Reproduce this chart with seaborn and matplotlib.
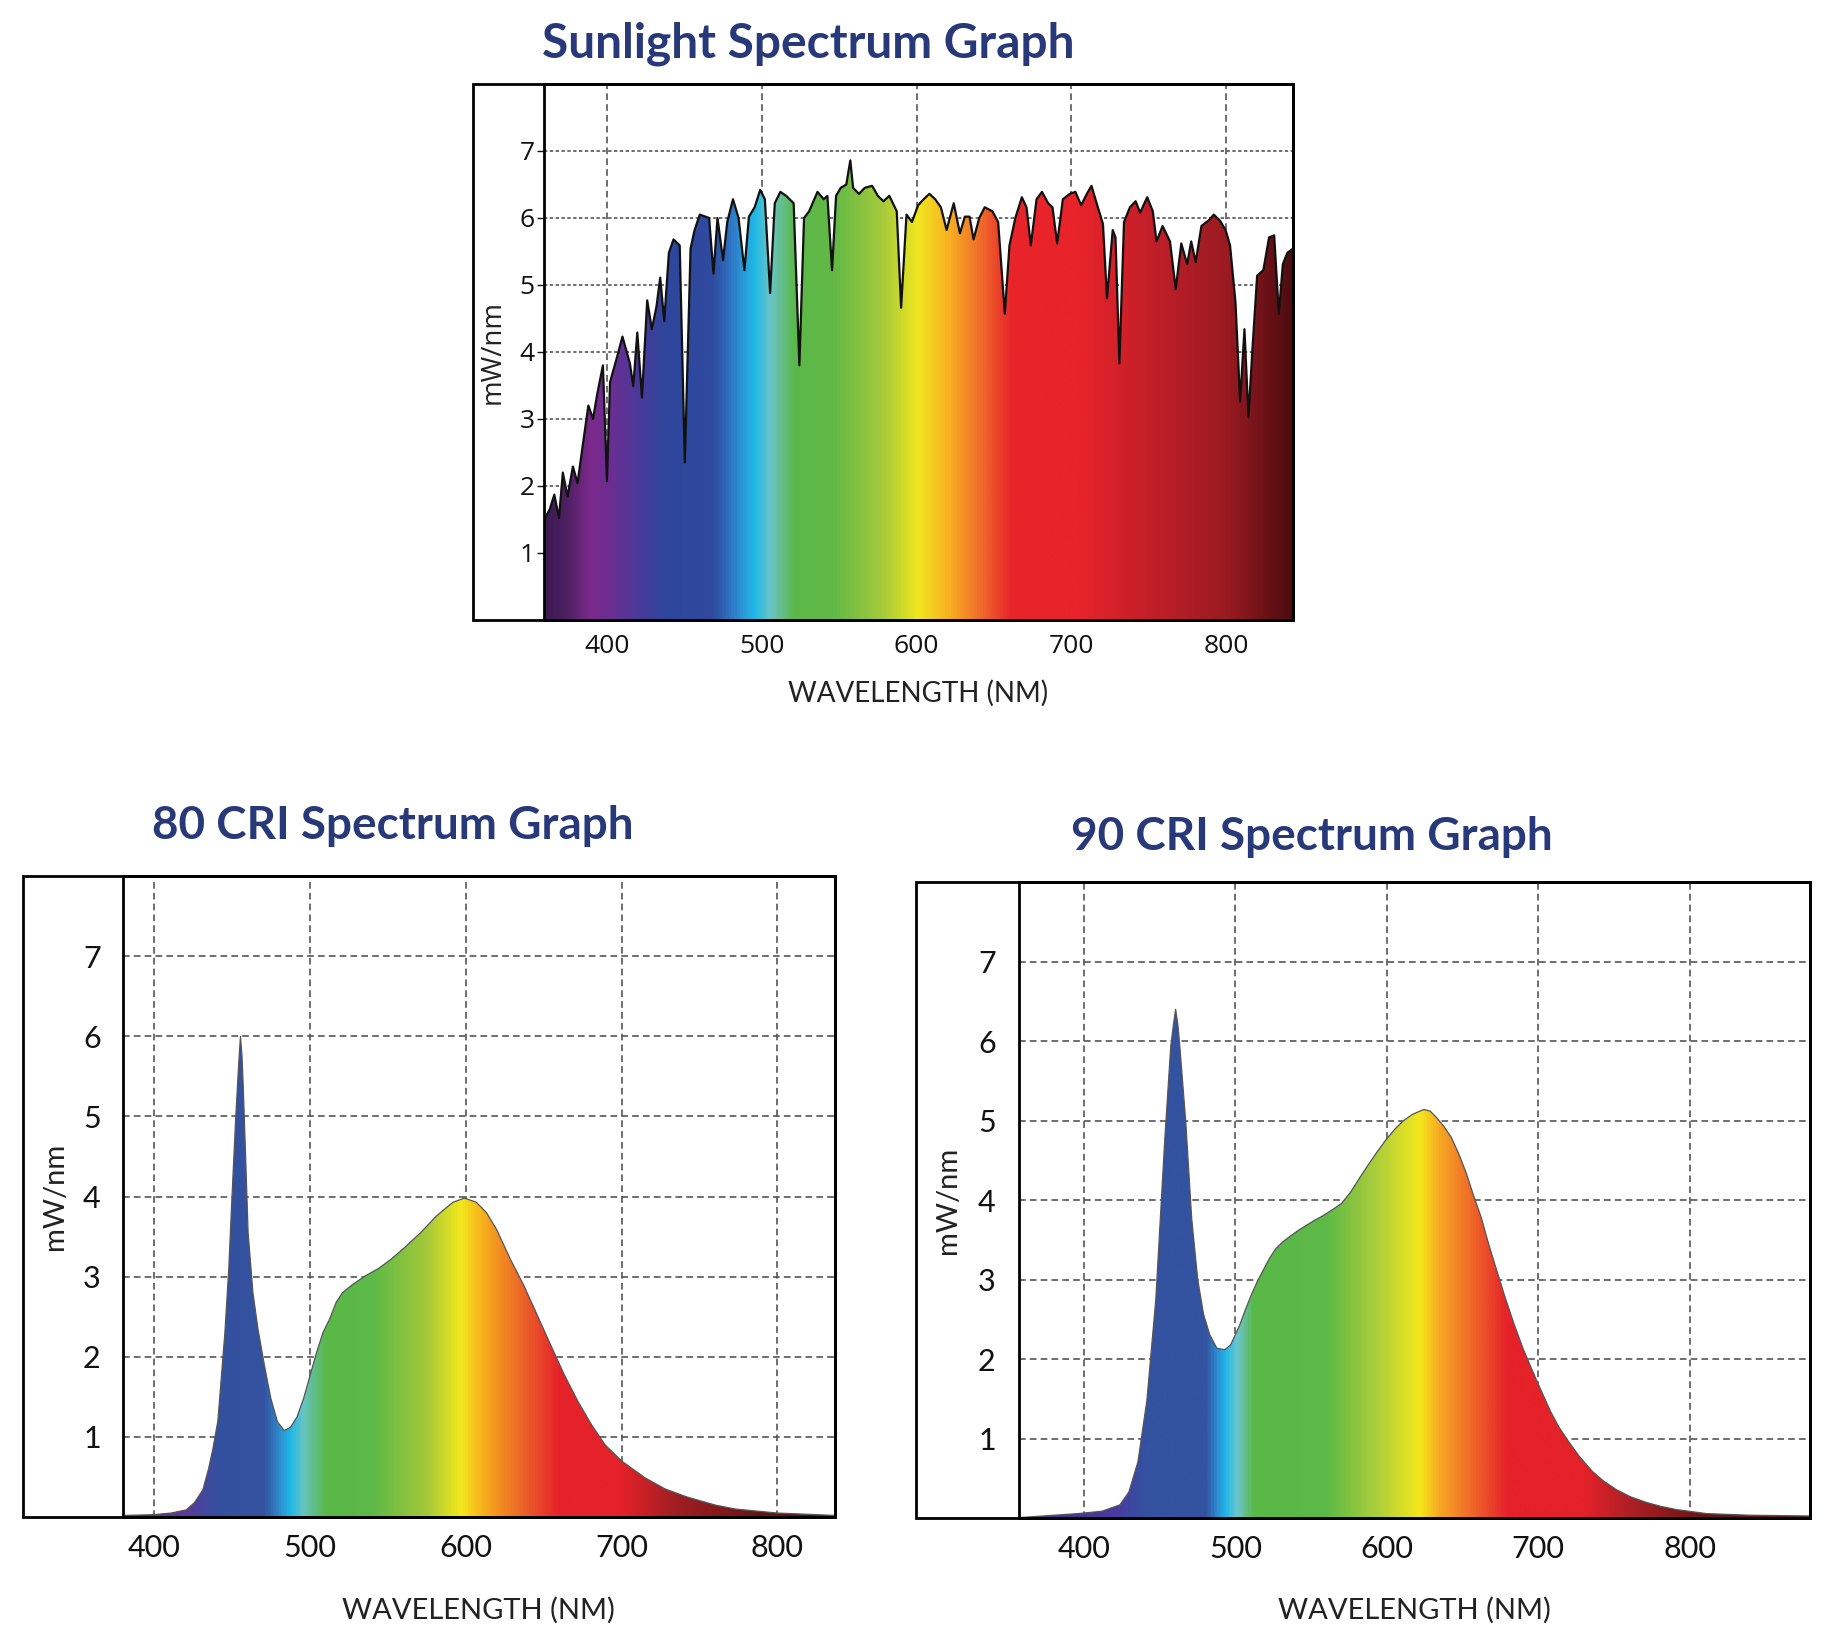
import numpy as np
import matplotlib
matplotlib.use("Agg")
import matplotlib.pyplot as plt
from matplotlib.colors import LinearSegmentedColormap
from matplotlib.patches import Rectangle
import seaborn as sns

sns.set_style("white")
plt.rcParams['font.family'] = ['Lato', 'DejaVu Sans']

# --- data (wavelength nm, mW/nm) ---
sun_wl = [359.5, 363, 366, 369, 371.5, 374.5, 378, 381, 384.5, 388, 391, 393.7, 397.4, 400,
          402, 406.7, 410, 414.8, 417, 419.6, 422.6, 426, 429, 432, 434.4, 437, 440, 443, 447,
          450.3, 454, 456.6, 460, 466, 468.8, 471.4, 475, 477.7, 481.4, 485, 488.8, 491.7, 495.4,
          499, 502, 505.4, 508.4, 512, 515.8, 520.6, 524.3, 527.3, 530.6, 536, 540, 542.4, 545.4,
          548, 551, 554.6, 557.2, 559, 562.8, 566.5, 571.3, 575, 578.6, 582.4, 587.2, 590, 593.5,
          597, 601, 604.6, 608.3, 612, 615.7, 619.4, 624, 628, 631.2, 634.2, 636.8, 640.5, 644,
          649, 652.7, 657, 660, 663.8, 668, 671, 673.8, 677.5, 681, 685, 687.8, 690.8, 694.5, 699,
          702.6, 706.3, 710, 713, 716.7, 720.4, 723, 726.7, 728.5, 731, 734, 737.8, 741.5, 744.4,
          749, 752.6, 755, 758.9, 763.7, 767.4, 771, 774.8, 777.4, 780.3, 784, 788.5, 792, 796,
          799.6, 802.5, 806, 809, 811.8, 814.4, 817, 820, 824, 827.7, 831, 834, 836.6, 839.5, 843]
sun_val = [1.5, 1.65, 1.87, 1.52, 2.2, 1.84, 2.29, 2.04, 2.63, 3.2, 3.0, 3.37, 3.8, 2.07,
           3.55, 3.94, 4.23, 3.83, 3.49, 4.29, 3.32, 4.77, 4.34, 4.68, 5.11, 4.46, 5.48, 5.68, 5.59,
           2.35, 5.54, 5.82, 6.05, 6.0, 5.17, 6.0, 5.37, 5.94, 6.28, 6.0, 5.22, 6.02, 6.16,
           6.42, 6.28, 4.88, 6.22, 6.39, 6.33, 6.22, 3.8, 6.0, 6.1, 6.39, 6.28, 6.33, 5.22,
           6.33, 6.45, 6.5, 6.86, 6.45, 6.36, 6.45, 6.48, 6.33, 6.25, 6.33, 6.1, 4.66, 6.05,
           5.94, 6.19, 6.28, 6.36, 6.28, 6.16, 5.82, 6.22, 5.77, 6.02, 6.02, 5.68, 6.0, 6.16,
           6.1, 5.94, 4.57, 5.59, 6.0, 6.31, 6.16, 5.59, 6.28, 6.39, 6.22, 6.16, 5.62, 6.28, 6.36,
           6.39, 6.19, 6.36, 6.48, 6.19, 5.91, 4.8, 5.82, 5.71, 3.83, 5.94, 6.16, 6.25, 6.08,
           6.31, 6.1, 5.65, 5.88, 5.65, 4.94, 5.62, 5.31, 5.65, 5.34, 5.88, 5.96, 6.05, 5.96,
           5.82, 5.59, 4.74, 3.26, 4.34, 3.03, 4.06, 5.14, 5.22, 5.71, 5.74, 4.57, 5.31, 5.48, 5.54]

cri80_wl = [380.1, 400, 411, 420.8, 426, 431.4, 435, 437.8, 441, 445.5, 448, 450, 452.5, 454.5,
            455.5, 456.5, 457.2, 458.8, 460.4, 463.5, 466.7, 470.9, 475, 479.2, 483.5, 487.6,
            491.8, 496, 500.2, 504.4, 508.6, 512.7, 516.9, 521, 527.3, 535.6, 543.9, 552.3,
            560.6, 571.1, 581.4, 591.9, 599.2, 606.7, 613.3, 619.8, 628.6, 637.3, 645.9, 654.7,
            663.4, 672.1, 680.8, 689.5, 700, 715, 728, 742, 760, 773, 800, 836.9]
cri80_val = [0.02, 0.03, 0.05, 0.09, 0.18, 0.34, 0.6, 0.85, 1.2, 2.3, 3.1, 3.97, 5.0, 5.7,
             6.0, 5.75, 5.41, 4.5, 3.55, 2.8, 2.35, 1.89, 1.48, 1.19, 1.08, 1.12,
             1.25, 1.48, 1.77, 2.06, 2.31, 2.47, 2.68, 2.8, 2.9, 3.01, 3.1, 3.22,
             3.36, 3.55, 3.76, 3.93, 3.98, 3.93, 3.8, 3.59, 3.22, 2.89, 2.52, 2.14,
             1.77, 1.44, 1.15, 0.9, 0.7, 0.49, 0.35, 0.25, 0.15, 0.1, 0.05, 0.02]

cri90_wl = [357.3, 396, 411.9, 423.7, 429.6, 435.6, 441.5, 447.4, 453.4, 457.3, 459, 460.5,
            462, 463.2, 467.2, 471.1, 475.1, 479, 483, 487.7, 492.9, 496.8, 502.8, 506.5, 510.7,
            514.5, 518.6, 522.5, 526.6, 531.5, 536.4, 541.5, 546.5, 552.5, 558.3, 564, 570.1,
            576, 582, 587.5, 593.3, 599, 605.1, 611, 617, 624.4, 628.5, 632.7, 637.5, 642.5,
            647.5, 652.4, 657, 662.5, 667, 672.3, 678, 684.2, 690, 696, 702, 707.9, 713.5,
            719.8, 727, 735.7, 743, 751.6, 761, 771.4, 781, 791.3, 811.1, 838.8, 879.4]
cri90_val = [0.01, 0.06, 0.09, 0.17, 0.33, 0.71, 1.48, 2.75, 4.79, 5.94, 6.2, 6.4,
             6.2, 5.95, 4.98, 3.77, 3.0, 2.56, 2.31, 2.14, 2.12, 2.18, 2.43, 2.62, 2.82,
             2.98, 3.13, 3.27, 3.39, 3.48, 3.55, 3.62, 3.68, 3.75, 3.81, 3.88, 3.96,
             4.1, 4.28, 4.44, 4.6, 4.75, 4.89, 5.0, 5.08, 5.14, 5.12, 5.04, 4.93, 4.79,
             4.58, 4.34, 4.07, 3.77, 3.46, 3.13, 2.78, 2.43, 2.13, 1.86, 1.6, 1.35, 1.15,
             0.97, 0.78, 0.59, 0.47, 0.36, 0.27, 0.2, 0.15, 0.11, 0.06, 0.04, 0.03]

y_ticks = [1, 2, 3, 4, 5, 6, 7]
x_ticks = [400, 500, 600, 700, 800]

# colour stops of the spectrum fill (wavelength, colour)
sun_stops = [(359.5, '#3e1a52'), (372, '#4a2060'), (389, '#7c2a8c'), (402, '#6a2e92'),
             (420, '#4a3a9a'), (437, '#2f479c'), (468, '#2e4a9e'), (478, '#2f6fbf'),
             (489, '#2a9fdc'), (495, '#1db8e5'), (505, '#6ac4c8'), (521, '#5bb848'),
             (547, '#63b946'), (579, '#a8cb3a'), (601, '#f0e61e'), (620, '#f8b321'),
             (642, '#f06a2a'), (661, '#e8252a'), (705, '#e8232a'), (752, '#c21f28'),
             (801, '#9a1b22'), (843, '#4e0c10')]
cri80_stops = [(380.1, '#5a2a8a'), (420, '#5a3a9a'), (440, '#34509f'), (470, '#3352a0'),
               (480, '#2e8bcc'), (487, '#1fb8e8'), (495, '#66c4c4'), (510, '#5ab848'),
               (540, '#5db947'), (575, '#a5c93a'), (597, '#f4e81c'), (606, '#f7c21c'),
               (620, '#f39420'), (640, '#ea5a2a'), (660, '#e62229'), (700, '#e52129'),
               (735, '#a01f22'), (790, '#6a1315'), (836.9, '#5a1012')]
cri90_stops = [(357.3, '#4a2a8a'), (420, '#4a3aa0'), (440, '#3352a0'), (480, '#3352a0'),
               (486, '#2f80c8'), (493, '#1fb8e8'), (501, '#6cc6cc'), (512, '#5ab848'),
               (560, '#5db947'), (595, '#b0cf3a'), (622, '#f4e81c'), (635, '#f7a823'),
               (660, '#ee5d29'), (680, '#e52129'), (730, '#e52129'), (765, '#a81f24'),
               (810, '#6a1315'), (879.4, '#5a1012')]

TITLE_COLOR = '#28397a'
GRID_COLOR = '#555555'

fig = plt.figure(figsize=(18.35, 16.47), dpi=100)


def spectrum_panel(rect, outer_left, wl, val, stops, xlim, title, title_xy, title_fs,
                   line_color, line_w, tick_font, tick_fs, label_fs, ytick_len, hgrid_ls,
                   ytick_pad, xtick_pad, ylabel_pad, xlabel_pad):
    ax = fig.add_axes(rect)
    ymax = 8

    # gradient clipped to the area under the curve
    poly = ax.fill_between(wl, val, 0, color='none', lw=0)
    lo, hi = xlim
    pos = [(w - lo) / (hi - lo) for w, c in stops]
    pos[0], pos[-1] = 0.0, 1.0
    cmap = LinearSegmentedColormap.from_list('spec', list(zip(pos, [c for w, c in stops])))
    grad = np.linspace(0, 1, 1200).reshape(1, -1)
    im = ax.imshow(grad, extent=[lo, hi, 0, ymax], aspect='auto', cmap=cmap,
                   origin='lower', zorder=2, interpolation='bilinear')
    im.set_clip_path(poly.get_paths()[0], transform=ax.transData)

    sns.lineplot(x=wl, y=val, ax=ax, color=line_color, lw=line_w, estimator=None,
                 sort=False, zorder=3)

    ax.set_xlim(lo, hi)
    ax.set_ylim(0, ymax)
    ax.set_xticks(x_ticks)
    ax.set_yticks(y_ticks)
    ax.set_xticklabels([str(t) for t in x_ticks], fontsize=tick_fs, family=tick_font)
    ax.set_yticklabels([str(t) for t in y_ticks], fontsize=tick_fs, family=tick_font)
    ax.tick_params(axis='x', length=0, pad=xtick_pad, colors='#111111')
    ax.tick_params(axis='y', length=ytick_len, width=1, direction='out',
                   left=ytick_len > 0, pad=ytick_pad, colors='#111111')

    for t in x_ticks:
        ax.axvline(t, color=GRID_COLOR, ls=(0, (4, 2.5)), lw=1.2, zorder=1)
    for t in y_ticks:
        ax.axhline(t, color=GRID_COLOR, ls=hgrid_ls, lw=1.2, zorder=1)

    for s in ax.spines.values():
        s.set_color('black')
        s.set_linewidth(2)
        s.set_zorder(4)

    ax.set_xlabel('WAVELENGTH (NM)', fontsize=label_fs, labelpad=xlabel_pad, color='#222222')
    ax.set_ylabel('mW/nm', fontsize=label_fs, labelpad=ylabel_pad, color='#222222',
                  family=tick_font)

    # outer frame that encloses the y labels
    left, bottom, width, height = rect
    fig.add_artist(Rectangle((outer_left, bottom), left + width - outer_left, height,
                             transform=fig.transFigure, fill=False, lw=2,
                             edgecolor='black', zorder=5))
    fig.text(title_xy[0], title_xy[1], title, ha='center', va='center',
             fontsize=title_fs, fontweight='bold', color=TITLE_COLOR)
    return ax


spectrum_panel([0.2966, 0.6236, 0.4079, 0.3254], 0.2576, sun_wl, sun_val, sun_stops,
               (359.5, 843), 'Sunlight Spectrum Graph', (0.4403, 0.9737), 34.5,
               '#111111', 1.6, ['Open Sans', 'DejaVu Sans'], 19, 20, 5, (0, (2, 1.5)),
               2, 10, 9, 15)
spectrum_panel([0.0670, 0.0789, 0.3880, 0.3892], 0.0125, cri80_wl, cri80_val, cri80_stops,
               (380.1, 836.9), '80 CRI Spectrum Graph', (0.2138, 0.4982), 33,
               '#555555', 0.9, ['Lato', 'DejaVu Sans'], 22, 21, 0, (0, (4, 2.5)),
               16, 12, 11, 25)
spectrum_panel([0.5555, 0.0781, 0.4309, 0.3864], 0.4992, cri90_wl, cri90_val, cri90_stops,
               (357.3, 879.4), '90 CRI Spectrum Graph', (0.7147, 0.4918), 33,
               '#555555', 0.9, ['Lato', 'DejaVu Sans'], 22, 21, 0, (0, (4, 2.5)),
               17, 12, 12, 24)

fig.savefig('out.png', dpi=100, facecolor='white')
